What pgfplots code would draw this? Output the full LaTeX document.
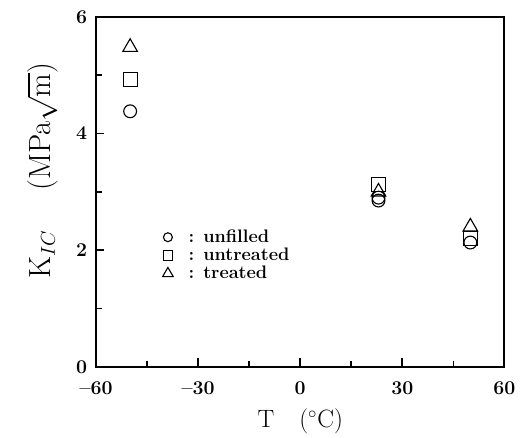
\documentclass[border=0pt]{standalone}
\usepackage{fontspec}
\usepackage{pgfplots}
\pgfplotsset{compat=1.18}
\begin{document}
\begin{tikzpicture}
\begin{axis}[
  scale only axis,
  width=10.3cm, height=8.83cm,
  xmin=-60, xmax=60, ymin=0, ymax=6,
  xtick={-60,-30,0,30,60},
  xticklabels={\textbf{--60},\textbf{--30},\textbf{0},\textbf{30},\textbf{60}},
  ytick={0,2,4,6},
  yticklabels={\textbf{0},\textbf{2},\textbf{4},\textbf{6}},
  minor x tick num=1, minor y tick num=1,
  tick pos=left, tick align=inside,
  major tick length=6pt, minor tick length=4pt,
  axis line style={line width=1.4pt},
  every tick/.style={line width=1.2pt, black},
  tick label style={font=\fontsize{14}{16}\selectfont},
  yticklabel style={xshift=-3pt},
  xticklabel style={yshift=-7pt},
  xlabel={T\quad($^\circ$C)},
  ylabel={K$_{IC}$\quad\ (MPa$\sqrt{\mathrm{m}}$)},
  xlabel style={font=\fontsize{18}{22}\selectfont, yshift=-3pt},
  ylabel style={font=\fontsize{22}{26}\selectfont, at={(ticklabel cs:0.56)}, yshift=6pt},
  legend style={draw=none, fill=none, at={(0.152,0.408)}, anchor=north west,
    font=\fontsize{13}{15}\selectfont\bfseries, row sep=-1.5pt},
  legend cell align=left,
  clip=false,
]
\path (rel axis cs:-0.2354,-0.184) rectangle (rel axis cs:1.0267,1.048);
\addplot[only marks, mark=o, mark size=4.6pt, thick, legend image post style={mark size=3.2pt}] coordinates {(-50,4.38) (23,2.9) (23,2.85) (50,2.13)};
\addlegendentry{\hspace{9pt}: unfilled}
\addplot[only marks, mark=square, mark size=5pt, thick, legend image post style={mark size=3.4pt}] coordinates {(-50,4.93) (23,3.13) (50,2.2)};
\addlegendentry{\hspace{9pt}: untreated}
\addplot[only marks, mark=triangle, mark size=6pt, thick, legend image post style={mark size=4.4pt}] coordinates {(-50,5.48) (23,3.0) (50,2.4)};
\addlegendentry{\hspace{9pt}: treated}
\end{axis}
\end{tikzpicture}
\end{document}
